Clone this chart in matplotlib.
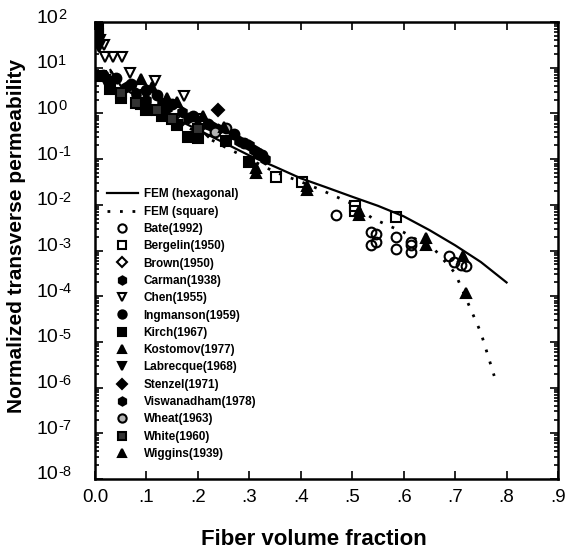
import numpy as np
import matplotlib
matplotlib.use('Agg')
import matplotlib.pyplot as plt
from matplotlib.ticker import FixedLocator, LogLocator, NullFormatter
from matplotlib.transforms import blended_transform_factory, offset_copy

plt.rcParams['font.family'] = ['Liberation Sans', 'DejaVu Sans']

# FEM curves
hex_vf = [0.03, 0.05, 0.1, 0.15, 0.2, 0.25, 0.3, 0.35, 0.4, 0.45, 0.5, 0.55, 0.6, 0.65, 0.7, 0.75, 0.8]
hex_k = [8.9, 4.0, 1.66, 0.83, 0.44, 0.23, 0.12, 0.068, 0.038, 0.024, 0.015, 0.0095, 0.0056, 0.0028, 0.0013, 5.6e-4, 2.0e-4]

sq_vf = [0.03, 0.05, 0.1, 0.15, 0.2, 0.25, 0.3, 0.35, 0.4, 0.44, 0.5, 0.54, 0.6, 0.66, 0.70, 0.727, 0.75, 0.776]
sq_k = [8.5, 3.7, 1.5, 0.74, 0.38, 0.19, 0.10, 0.052, 0.032, 0.021, 0.0105, 0.005, 0.0025, 0.00105, 3.2e-4, 6.3e-5, 1.6e-5, 1.8e-6]

# experimental data
bate_vf = [0.468, 0.536, 0.546, 0.546, 0.536, 0.585, 0.585, 0.614, 0.614, 0.614, 0.688, 0.698, 0.711, 0.721]
bate_k = [6.0e-3, 2.5e-3, 2.3e-3, 1.55e-3, 1.3e-3, 2.0e-3, 1.1e-3, 1.55e-3, 1.3e-3, 9.3e-4, 7.6e-4, 5.6e-4, 4.8e-4, 4.6e-4]

bergelin_vf = [0.351, 0.403, 0.505, 0.505, 0.585]
bergelin_k = [0.041, 0.032, 0.0095, 0.0072, 0.0054]

brown_vf = [0.17, 0.22]
brown_k = [0.7, 0.42]

carman_vf = [0.03, 0.06, 0.1, 0.14, 0.18, 0.24, 0.28, 0.31]
carman_k = [5.0, 3.8, 2.0, 1.3, 0.8, 0.45, 0.25, 0.16]

chen_vf = [0.01, 0.018, 0.02, 0.035, 0.053, 0.068, 0.117, 0.172, 0.2]
chen_k = [41, 31, 17, 17, 17, 7.6, 5.1, 2.4, 0.76]

ingmanson_vf = [0.015, 0.04, 0.07, 0.1, 0.12, 0.15, 0.19, 0.22, 0.27, 0.289, 0.316, 0.325]
ingmanson_k = [7.0, 6.0, 4.5, 3.2, 2.5, 1.6, 0.9, 0.6, 0.35, 0.22, 0.135, 0.12]

kirch_vf = [0.005, 0.005, 0.012, 0.03, 0.05, 0.09, 0.1, 0.13, 0.16, 0.18, 0.2, 0.255, 0.3]
kirch_k = [75, 55, 6.5, 3.5, 2.2, 1.6, 1.2, 0.9, 0.55, 0.3, 0.29, 0.25, 0.085]

kostomov_vf = [0.312, 0.312, 0.413, 0.413, 0.513, 0.513, 0.643, 0.643, 0.715, 0.722]
kostomov_k = [0.065, 0.05, 0.026, 0.021, 0.0075, 0.006, 0.0019, 0.0013, 7.5e-4, 1.2e-4]

labrecque_vf = [0.005, 0.008, 0.02, 0.1, 0.2]
labrecque_k = [40, 28, 5.5, 2.5, 0.65]

stenzel_vf = [0.24]
stenzel_k = [1.19]

viswanadham_vf = [0.08, 0.13, 0.17, 0.23, 0.3, 0.33]
viswanadham_k = [2.8, 1.7, 1.1, 0.5, 0.2, 0.1]

wheat_vf = [0.234, 0.255]
wheat_k = [0.39, 0.48]

white_vf = [0.05, 0.08, 0.12, 0.15, 0.2]
white_k = [2.8, 1.7, 1.2, 0.75, 0.45]

wiggins_vf = [0.09, 0.11, 0.14, 0.16, 0.21, 0.25]
wiggins_k = [5.8, 3.8, 2.2, 1.8, 0.9, 0.5]

x_ticks = [0.0, 0.1, 0.2, 0.3, 0.4, 0.5, 0.6, 0.7, 0.8, 0.9]
x_labels = ['0.0', '.1', '.2', '.3', '.4', '.5', '.6', '.7', '.8', '.9']
y_exps = list(range(-8, 3))

fig = plt.figure(figsize=(5.68, 5.56), dpi=100)
ax = fig.add_axes([0.1673, 0.1385, 0.8151, 0.8219])

ax.plot(hex_vf, hex_k, '-', color='black', lw=1.6, label='FEM (hexagonal)')
ax.plot(sq_vf, sq_k, color='black', lw=2.0, linestyle=(0, (1, 3.5)), label='FEM (square)')

ms = 7
series = [
    (bate_vf, bate_k, 'o', 'none', 'Bate(1992)'),
    (bergelin_vf, bergelin_k, 's', 'none', 'Bergelin(1950)'),
    (brown_vf, brown_k, 'D', 'none', 'Brown(1950)'),
    (carman_vf, carman_k, 'h', 'black', 'Carman(1938)'),
    (chen_vf, chen_k, 'v', 'none', 'Chen(1955)'),
    (ingmanson_vf, ingmanson_k, 'o', 'black', 'Ingmanson(1959)'),
    (kirch_vf, kirch_k, 's', 'black', 'Kirch(1967)'),
    (kostomov_vf, kostomov_k, '^', 'black', 'Kostomov(1977)'),
    (labrecque_vf, labrecque_k, 'v', 'black', 'Labrecque(1968)'),
    (stenzel_vf, stenzel_k, 'D', 'black', 'Stenzel(1971)'),
    (viswanadham_vf, viswanadham_k, 'h', 'black', 'Viswanadham(1978)'),
    (wheat_vf, wheat_k, 'o', '0.7', 'Wheat(1963)'),
    (white_vf, white_k, 's', '0.2', 'White(1960)'),
    (wiggins_vf, wiggins_k, '^', 'black', 'Wiggins(1939)'),
]
for vf, k, m, fc, name in series:
    size = ms - 1 if m == 'D' else ms
    ax.plot(vf, k, linestyle='none', marker=m, markersize=size,
            markerfacecolor=fc, markeredgecolor='black', markeredgewidth=1.5,
            label=name)

ax.set_yscale('log')
ax.set_xlim(0, 0.9)
ax.set_ylim(1e-8, 1e2)

ax.xaxis.set_major_locator(FixedLocator(x_ticks))
ax.set_xticklabels(x_labels)
ax.yaxis.set_major_locator(FixedLocator([10.0 ** e for e in y_exps]))
ax.yaxis.set_minor_locator(LogLocator(base=10, subs=np.arange(2, 10), numticks=20))
ax.yaxis.set_minor_formatter(NullFormatter())

ax.tick_params(which='both', direction='in', top=True, right=True, width=1.2)
ax.tick_params(which='major', length=6)
ax.tick_params(which='minor', length=3)
ax.tick_params(axis='x', labelsize=13.5, pad=7)
ax.tick_params(axis='y', labelleft=False)
for sp in ax.spines.values():
    sp.set_linewidth(1.8)

# y tick labels: left-aligned "10" with a raised exponent
trans = blended_transform_factory(fig.transFigure, ax.transData)
base_tr = offset_copy(trans, fig=fig, x=0, y=4, units='dots')
sup_tr = offset_copy(trans, fig=fig, x=0, y=7, units='dots')
for e in y_exps:
    ax.text(36 / 568, 10.0 ** e, '10', transform=base_tr, ha='left', va='center',
            fontsize=14, clip_on=False)
    ax.text(58 / 568, 10.0 ** e, str(e), transform=sup_tr,
            ha='left', va='center', fontsize=10.5, clip_on=False)

ax.set_xlabel('Fiber volume fraction', fontsize=16, fontweight='bold')
ax.set_ylabel('Normalized transverse permeability', fontsize=15, fontweight='bold')
ax.xaxis.set_label_coords(0.473, -0.109)
ax.yaxis.set_label_coords(-0.15, 0.532)

ax.legend(loc='upper left', bbox_to_anchor=(0.026, 0.636), frameon=False,
          prop={'weight': 'bold', 'size': 8.5}, handlelength=2.6, handletextpad=0.5,
          labelspacing=0.45, borderpad=0, borderaxespad=0, markerscale=0.85)

fig.savefig('out.png', dpi=100)
